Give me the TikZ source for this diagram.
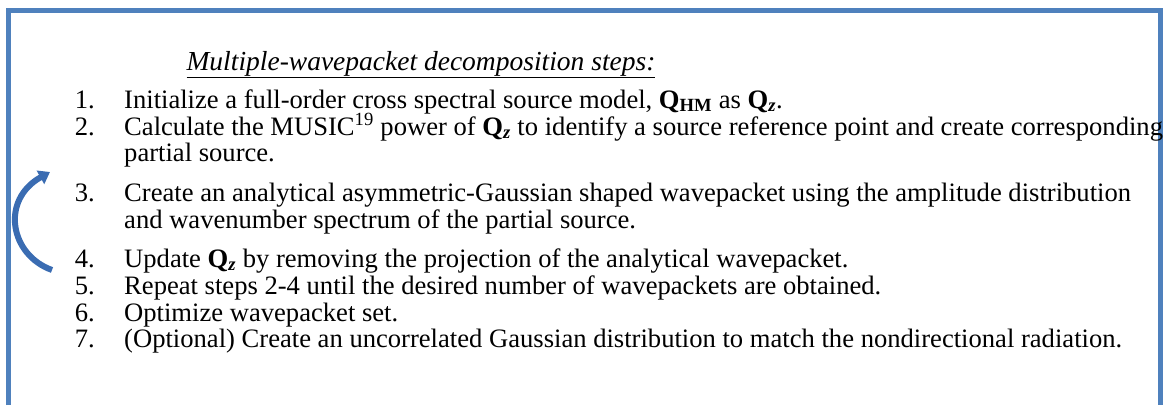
\documentclass[tikz,border=0pt]{standalone}
\usepackage{fontspec}
\setmainfont{Liberation Serif}
\usetikzlibrary{arrows.meta}

\definecolor{frameblue}{RGB}{79,129,189}
\definecolor{loopblue}{RGB}{58,108,178}

\begin{document}
\begin{tikzpicture}[x=1pt, y=-1pt,
    num/.style={anchor=base east, inner sep=0, font=\fontsize{26.6}{30}\selectfont},
    txt/.style={anchor=base west, inner sep=0, font=\fontsize{26.6}{30}\selectfont},
    frame/.style={draw=frameblue, line width=5pt},
    loop/.style={draw=loopblue, line width=6pt,
        -{Triangle[width=15pt, length=11pt]}}]

    \useasboundingbox (0, 0) rectangle (1174, 405);

    % Box
    \draw[frame] (8.5, 405) -- (8.5, 10.5) -- (1160.5, 10.5) -- (1160.5, 405);

    % Title
    \node[anchor=base, inner sep=0, font=\fontsize{27.5}{30}\selectfont\itshape]
    (title) at (421, 70) {\underline{Multiple-wavepacket decomposition steps:}};

    % Steps
    \node[num] (n1) at (95, 108) {1.};
    \node[txt] (t1) at (124, 108) {Initialize a full-order cross spectral source model,
        \textbf{Q}\textsubscript{\textbf{HM}} as \textbf{Q}\textsubscript{\textbf{\textit{z}}}.};
    \node[num] (n2) at (95, 135) {2.};
    \node[txt] (t2) at (124, 135) {Calculate the MUSIC\textsuperscript{19} power of
        \textbf{Q}\textsubscript{\textbf{\textit{z}}} to identify a source reference point and create corresponding};
    \node[txt] (t2b) at (124, 161) {partial source.};
    \node[num] (n3) at (95, 201) {3.};
    \node[txt] (t3) at (124, 201) {Create an analytical asymmetric-Gaussian shaped wavepacket using the amplitude distribution};
    \node[txt] (t3b) at (124, 228) {and wavenumber spectrum of the partial source.};
    \node[num] (n4) at (95, 267) {4.};
    \node[txt] (t4) at (124, 267) {Update \textbf{Q}\textsubscript{\textbf{\textit{z}}}
        by removing the projection of the analytical wavepacket.};
    \node[num] (n5) at (95, 294) {5.};
    \node[txt] (t5) at (124, 294) {Repeat steps 2-4 until the desired number of wavepackets are obtained.};
    \node[num] (n6) at (95, 321) {6.};
    \node[txt] (t6) at (124, 321) {Optimize wavepacket set.};
    \node[num] (n7) at (95, 347) {7.};
    \node[txt] (t7) at (124, 347) {(Optional) Create an uncorrelated Gaussian distribution to match the nondirectional radiation.};

    % Loop back arrow
    \coordinate (tail) at (52, 270);
    \coordinate (head) at (50, 172);
    \draw[loop] (tail) .. controls (10, 255) and (0, 200) .. (head);

\end{tikzpicture}
\end{document}
